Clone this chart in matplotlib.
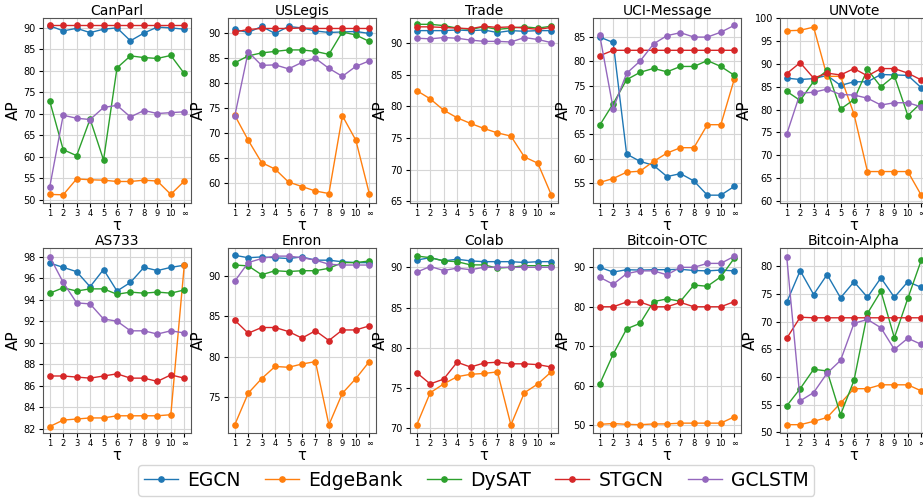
import numpy as np
import matplotlib
matplotlib.use("Agg")
import matplotlib.pyplot as plt

# x axis: tau = 1..10 and infinity
tau_labels = ["1", "2", "3", "4", "5", "6", "7", "8", "9", "10", "∞"]
models = ["EGCN", "EdgeBank", "DySAT", "STGCN", "GCLSTM"]
colors = ["tab:blue", "tab:orange", "tab:green", "tab:red", "tab:purple"]

# AP values, one list per model, per dataset
canparl = [
    [90.5, 89.3, 89.9, 88.9, 89.7, 90.0, 87.0, 88.8, 90.2, 90.0, 89.7],
    [51.3, 51.2, 54.9, 54.7, 54.6, 54.3, 54.3, 54.6, 54.4, 51.3, 54.4],
    [73.0, 61.7, 60.3, 68.8, 59.3, 80.7, 83.5, 83.1, 82.9, 83.6, 79.4],
    [90.6, 90.6, 90.6, 90.6, 90.6, 90.6, 90.6, 90.6, 90.6, 90.6, 90.6],
    [53.0, 69.7, 69.0, 68.7, 71.5, 72.0, 69.3, 70.8, 70.1, 70.3, 70.5],
]
uslegis = [
    [90.7, 90.1, 91.3, 89.9, 91.3, 91.0, 90.4, 90.1, 90.2, 90.3, 89.9],
    [73.5, 68.5, 64.0, 62.7, 60.1, 59.2, 58.3, 57.8, 73.4, 68.5, 57.8],
    [84.0, 85.4, 86.0, 86.3, 86.6, 86.6, 86.3, 85.7, 90.2, 89.6, 88.3],
    [90.2, 90.7, 90.9, 90.9, 90.9, 91.0, 90.9, 90.9, 90.9, 90.9, 90.9],
    [73.3, 86.2, 83.5, 83.6, 82.8, 84.1, 84.9, 82.9, 81.3, 83.3, 84.4],
]
trade = [
    [92.0, 92.0, 92.0, 92.1, 92.0, 92.1, 91.7, 92.0, 91.9, 92.0, 92.0],
    [82.5, 81.2, 79.4, 78.2, 77.3, 76.5, 75.8, 75.3, 72.0, 71.0, 66.0],
    [93.0, 93.0, 92.8, 92.4, 92.2, 92.6, 92.2, 92.4, 92.6, 92.4, 92.7],
    [92.6, 92.6, 92.5, 92.4, 92.3, 92.7, 92.5, 92.6, 92.4, 92.2, 92.5],
    [90.8, 90.7, 90.9, 90.8, 90.5, 90.3, 90.3, 90.2, 90.9, 90.6, 90.1],
]
uci = [
    [84.9, 83.8, 61.0, 59.5, 58.7, 56.4, 57.0, 55.5, 52.6, 52.6, 54.4],
    [55.2, 56.0, 57.3, 57.5, 59.5, 61.2, 62.3, 62.3, 67.0, 67.0, 76.3],
    [66.9, 71.3, 76.2, 77.7, 78.5, 77.8, 78.9, 78.9, 80.1, 78.9, 77.1],
    [81.1, 82.2, 82.2, 82.2, 82.2, 82.2, 82.2, 82.2, 82.2, 82.2, 82.2],
    [85.3, 70.3, 77.5, 80.0, 83.5, 85.2, 85.8, 84.9, 84.9, 85.9, 87.3],
]
unvote = [
    [86.9, 86.6, 86.8, 87.5, 85.3, 86.1, 86.1, 87.7, 87.6, 87.5, 84.8],
    [97.3, 97.4, 98.1, 87.3, 87.3, 79.0, 66.4, 66.4, 66.4, 66.4, 61.2],
    [84.0, 82.0, 86.2, 88.6, 80.1, 82.2, 88.8, 85.0, 87.4, 78.7, 81.5],
    [87.9, 90.3, 86.9, 88.0, 87.6, 89.0, 87.4, 89.0, 89.0, 88.0, 86.5],
    [74.6, 83.6, 83.8, 84.5, 83.3, 83.2, 82.5, 81.0, 81.5, 81.5, 80.6],
]
as733 = [
    [97.4, 97.0, 96.6, 95.2, 96.8, 94.8, 95.6, 97.0, 96.7, 97.0, 97.2],
    [82.2, 82.8, 82.9, 83.0, 83.0, 83.2, 83.2, 83.2, 83.2, 83.3, 97.2],
    [94.6, 95.1, 94.8, 95.0, 95.0, 94.5, 94.7, 94.6, 94.7, 94.6, 94.9],
    [86.9, 86.9, 86.8, 86.7, 86.9, 87.1, 86.7, 86.7, 86.4, 87.0, 86.7],
    [98.0, 95.6, 93.7, 93.6, 92.2, 92.0, 91.1, 91.1, 90.8, 91.1, 90.9],
]
enron = [
    [92.5, 92.2, 92.3, 92.2, 92.1, 92.3, 91.9, 91.9, 91.7, 91.6, 91.6],
    [71.6, 75.5, 77.3, 78.8, 78.7, 79.1, 79.4, 71.6, 75.5, 77.3, 79.4],
    [91.3, 91.2, 90.1, 90.6, 90.5, 90.6, 90.6, 90.9, 91.6, 91.6, 91.8],
    [84.5, 82.9, 83.6, 83.6, 83.1, 82.3, 83.2, 82.0, 83.3, 83.3, 83.8],
    [89.3, 91.6, 92.1, 92.4, 92.4, 92.2, 91.9, 91.4, 91.3, 91.3, 91.3],
]
colab = [
    [90.9, 91.2, 90.8, 91.0, 90.8, 90.7, 90.7, 90.7, 90.6, 90.7, 90.7],
    [70.4, 74.4, 75.5, 76.4, 76.7, 76.8, 77.0, 70.4, 74.4, 75.5, 77.0],
    [91.4, 91.2, 90.8, 90.7, 90.3, 90.3, 89.9, 90.0, 90.2, 90.2, 90.2],
    [76.9, 75.5, 76.1, 78.2, 77.6, 78.1, 78.2, 78.0, 78.0, 77.9, 77.6],
    [89.4, 90.1, 89.6, 89.9, 89.7, 90.0, 90.0, 90.0, 90.0, 90.0, 90.0],
]
btc_otc = [
    [90.0, 88.8, 89.4, 89.3, 89.4, 89.4, 89.5, 89.2, 89.1, 89.3, 89.1],
    [50.2, 50.4, 50.2, 50.1, 50.3, 50.3, 50.5, 50.5, 50.5, 50.5, 52.1],
    [60.4, 68.0, 74.4, 75.8, 81.3, 82.0, 81.4, 85.5, 85.2, 87.6, 92.3],
    [80.0, 80.0, 81.2, 81.2, 80.0, 80.0, 81.1, 80.0, 80.0, 80.0, 81.3],
    [87.5, 85.7, 88.4, 89.1, 89.1, 88.1, 90.0, 90.0, 91.0, 91.0, 92.8],
]
btc_alpha = [
    [73.5, 79.2, 74.9, 78.5, 74.3, 77.2, 74.4, 77.9, 74.4, 77.2, 76.2],
    [51.4, 51.4, 52.0, 52.7, 55.3, 57.9, 57.9, 58.6, 58.6, 58.6, 57.5],
    [54.8, 57.9, 61.4, 61.1, 53.2, 59.4, 71.5, 75.5, 67.1, 74.2, 81.1],
    [67.0, 70.8, 70.7, 70.7, 70.7, 70.7, 70.7, 70.7, 70.7, 70.7, 70.7],
    [81.7, 55.7, 57.2, 60.7, 63.0, 69.7, 70.4, 68.9, 65.0, 67.0, 65.9],
]

datasets = ["CanParl", "USLegis", "Trade", "UCI-Message", "UNVote",
            "AS733", "Enron", "Colab", "Bitcoin-OTC", "Bitcoin-Alpha"]
results = [canparl, uslegis, trade, uci, unvote,
           as733, enron, colab, btc_otc, btc_alpha]
# y range and tick step of each panel, as in the reference
y_limits = [(49.3, 92.3), (55.9, 93.0), (64.7, 94.0), (51.0, 88.8), (59.5, 100.1),
            (81.6, 98.8), (70.6, 93.4), (69.4, 92.4), (48.0, 94.9), (49.9, 83.3)]
y_ticks = [(50, 90, 5), (60, 90, 5), (65, 90, 5), (55, 85, 5), (60, 100, 5),
           (82, 98, 2), (75, 90, 5), (70, 90, 5), (50, 90, 10), (50, 80, 5)]

W, H = 923, 499
fig = plt.figure(figsize=(W / 100, H / 100), dpi=100)

# pixel boxes of the panels (the last column runs off the right edge, as in the reference)
col_left = [43, 228, 410, 593, 780]
row_top = [18, 248]
ax_w, ax_h = 148, 185

x = np.arange(len(tau_labels))
lines = []
for i, (name, res) in enumerate(zip(datasets, results)):
    r, c = divmod(i, 5)
    left = col_left[c] / W
    bottom = 1 - (row_top[r] + ax_h) / H
    ax = fig.add_axes([left, bottom, ax_w / W, ax_h / H])
    for vals, model, col in zip(res, models, colors):
        ln, = ax.plot(x, vals, marker="o", markersize=3.8, linewidth=1.0,
                      color=col, label=model)
        if i == 0:
            lines.append(ln)
    ax.set_title(name, fontsize=10, pad=2)
    ax.set_xticks(x)
    ax.set_xticklabels(tau_labels, fontsize=6)
    lo, hi, step = y_ticks[i]
    ax.set_yticks(np.arange(lo, hi + 0.1, step))
    ax.set_ylim(*y_limits[i])
    ax.set_xlim(-0.5, 10.5)
    ax.tick_params(axis="y", labelsize=7, length=3, pad=2)
    ax.tick_params(axis="x", length=3, pad=1.5)
    ax.set_ylabel("AP", fontsize=11, labelpad=2)
    ax.set_xlabel("τ", fontsize=10.5, labelpad=0)
    ax.grid(True, color="#d6d6d6", linewidth=0.8)
    ax.set_axisbelow(True)
    for s in ax.spines.values():
        s.set_color("#555555")

fig.legend(lines, models, loc="lower center", ncol=5, fontsize=13.5,
           bbox_to_anchor=(0.516, -0.012), frameon=True, handlelength=1.8,
           handletextpad=0.5, columnspacing=1.3, borderpad=0.3)

fig.savefig("out.png", dpi=100)
